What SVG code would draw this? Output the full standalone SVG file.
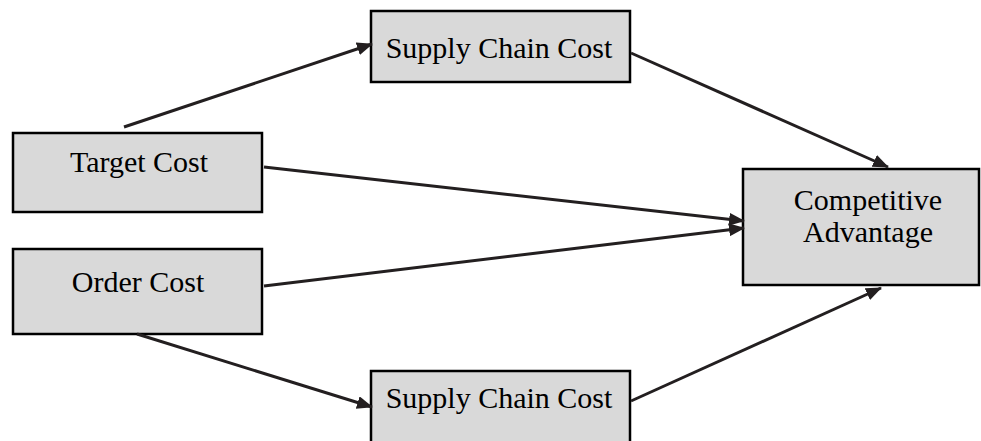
<svg xmlns="http://www.w3.org/2000/svg" width="981" height="441" viewBox="0 0 981 441">
<style>
.box{fill:#d9d9d9;stroke:#000;stroke-width:2.5}
.lbl{font-family:"Liberation Serif","Times New Roman",serif;font-size:30px;fill:#000;text-anchor:middle}
.edge{stroke:#231f20;stroke-width:3;fill:none;marker-end:url(#arr)}
</style>
<defs>
<marker id="arr" markerUnits="userSpaceOnUse" markerWidth="16" markerHeight="14" refX="15" refY="6.5" orient="auto">
<path d="M0,0 L16,6.5 L0,13 z" fill="#231f20"/>
</marker>
</defs>
<rect width="981" height="441" fill="#fff"/>
<g id="supply-top">
<rect class="box" x="371" y="11" width="259" height="71"/>
<text class="lbl" x="499" y="58">Supply Chain Cost</text>
</g>
<g id="target">
<rect class="box" x="13" y="133" width="249" height="79"/>
<text class="lbl" x="139" y="172">Target Cost</text>
</g>
<g id="order">
<rect class="box" x="13" y="249" width="249" height="85"/>
<text class="lbl" x="138" y="292">Order Cost</text>
</g>
<g id="competitive">
<rect class="box" x="743" y="169" width="236" height="116"/>
<text class="lbl" x="868" y="210">Competitive</text>
<text class="lbl" x="868" y="242">Advantage</text>
</g>
<g id="supply-bottom">
<rect class="box" x="371" y="371" width="259" height="80"/>
<text class="lbl" x="499" y="408">Supply Chain Cost</text>
</g>
<g id="connectors">
<line class="edge" x1="124" y1="127" x2="372" y2="44"/>
<line class="edge" x1="631" y1="53" x2="888" y2="167"/>
<line class="edge" x1="264" y1="167" x2="744" y2="221"/>
<line class="edge" x1="264" y1="286" x2="744" y2="228"/>
<line class="edge" x1="137" y1="334" x2="372" y2="407"/>
<line class="edge" x1="631" y1="401" x2="881" y2="288"/>
</g>
</svg>
